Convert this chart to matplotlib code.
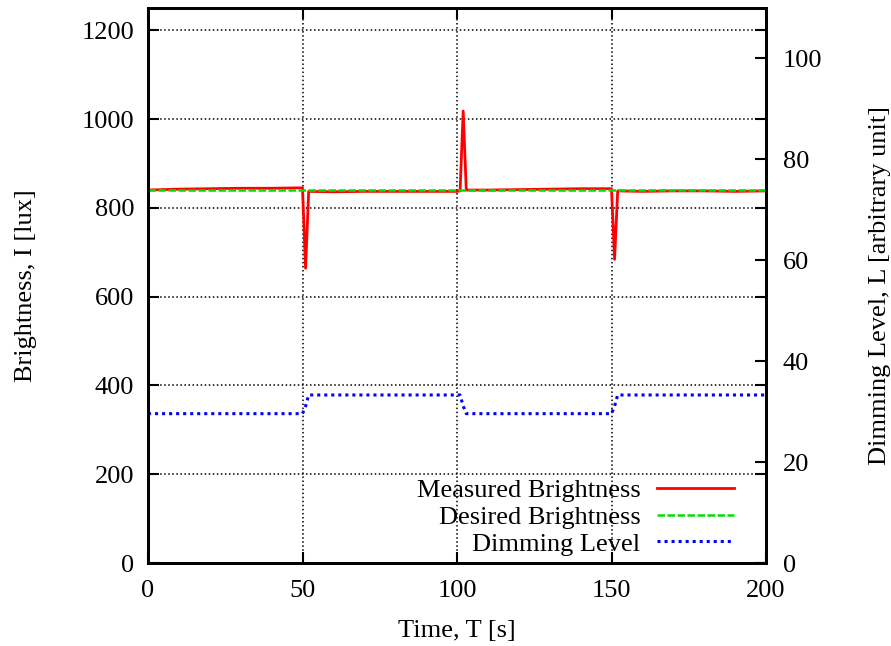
import numpy as np
import matplotlib as mpl
mpl.use('Agg')
import matplotlib.pyplot as plt

# Data
t_meas = [0, 10, 20, 30, 40, 50, 51, 52, 60, 70, 80, 90, 100, 101, 102, 103,
          110, 120, 130, 140, 150, 151, 152, 160, 170, 180, 190, 200]
meas = [840, 842, 843, 844, 844, 845, 664, 837, 836, 837, 837, 837, 837, 838, 1018, 840,
        840, 841, 842, 843, 843, 684, 838, 837, 838, 838, 837, 838]

t_des = [0, 200]
des = [840, 840]

t_dim = [0, 50, 51, 52, 101, 102, 103, 150, 151, 152, 200]
dim = [29.6, 29.6, 31.1, 33.3, 33.3, 31.1, 29.6, 29.6, 31.1, 33.3, 33.3]

xticks = [0, 50, 100, 150, 200]
yticks = [0, 200, 400, 600, 800, 1000, 1200]
y2ticks = [0, 20, 40, 60, 80, 100]

plt.rcParams['font.family'] = ['Liberation Serif', 'DejaVu Serif']
plt.rcParams['font.size'] = 19

fig = plt.figure(figsize=(8.91, 6.46), dpi=100)
ax = fig.add_axes([148/891, 83/646, 618/891, 555/646])
ax2 = ax.twinx()

l1, = ax.plot(t_meas, meas, color='red', lw=2.0, label='Measured Brightness')
l2, = ax.plot(t_des, des, color='#00e000', lw=1.8, ls=(0, (3, 1)), label='Desired Brightness')
l3, = ax2.plot(t_dim, dim, color='blue', lw=2.2, ls=(0, (1, 1.3)), label='Dimming Level')

ax.set_xlim(0, 200)
ax.set_ylim(0, 1250)
ax2.set_ylim(0, 110)
ax.set_xticks(xticks)
ax.set_yticks(yticks)
ax2.set_yticks(y2ticks)

ax.grid(True, color='black', ls=':', lw=1.1)
ax.tick_params(direction='in', length=8, width=1.5, top=True, right=True, pad=12)
ax.tick_params(axis='y', pad=10)
ax2.tick_params(direction='in', length=8, width=1.5, pad=12)

for a in (ax, ax2):
    for s in a.spines.values():
        s.set_linewidth(2.0)

ax.set_xlabel('Time, T [s]', labelpad=13)
ax.set_ylabel('Brightness, I [lux]', labelpad=32)
ax2.set_ylabel('Dimming Level, L [arbitrary unit]', labelpad=34)

leg = ax.legend(handles=[l1, l2, l3], loc='lower right', bbox_to_anchor=(0.978, -0.02),
                frameon=False, markerfirst=False, handlelength=2.9, handletextpad=0.65,
                labelspacing=0.12, borderaxespad=0.3)

fig.savefig('out.png', dpi=100)
